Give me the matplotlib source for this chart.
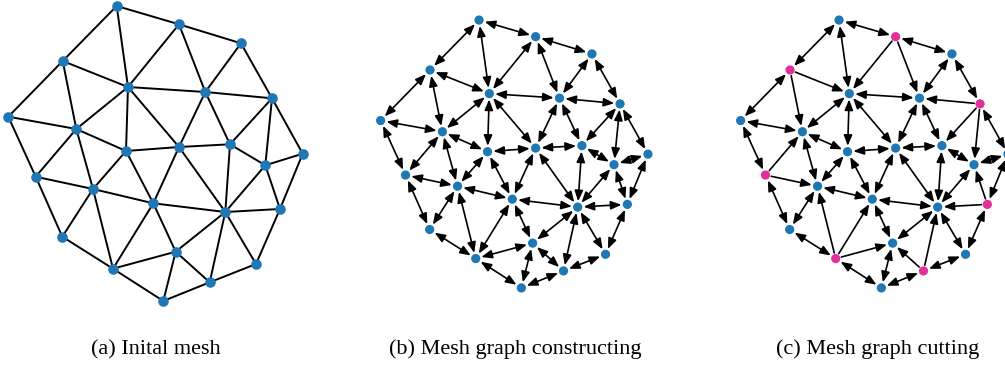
import matplotlib
matplotlib.use("Agg")
import matplotlib.pyplot as plt
from matplotlib.patches import FancyArrowPatch, ArrowStyle

# Mesh vertices (x to the right, y downward)
node_x = [116.7, 179.0, 241.0, 62.7, 128.0, 205.3, 272.0, 8.3, 76.3, 126.0,
          179.0, 230.0, 302.7, 265.3, 35.7, 93.0, 153.3, 225.3, 280.0, 62.3,
          175.7, 256.0, 113.0, 209.7, 163.3]
node_y = [6.0, 24.3, 43.3, 61.0, 87.0, 92.0, 98.3, 116.7, 129.0, 151.0,
          147.0, 144.3, 153.7, 165.3, 176.7, 189.0, 203.3, 212.0, 209.0, 236.7,
          251.7, 264.0, 268.7, 282.3, 301.0]

# Triangle edges of the mesh
edges = [(0, 1), (0, 3), (0, 4), (1, 2), (1, 4), (1, 5), (2, 5), (2, 6),
         (3, 4), (3, 7), (3, 8), (4, 5), (4, 8), (4, 9), (4, 10),
         (5, 6), (5, 10), (5, 11), (6, 11), (6, 12), (6, 13),
         (7, 8), (7, 14), (8, 9), (8, 14), (8, 15), (9, 10), (9, 15), (9, 16),
         (10, 11), (10, 16), (10, 17), (11, 13), (11, 17), (12, 13), (12, 18),
         (13, 17), (13, 18), (14, 15), (14, 19), (15, 16), (15, 19), (15, 22),
         (16, 17), (16, 20), (16, 22), (17, 18), (17, 20), (17, 21), (17, 23),
         (18, 21), (19, 22), (20, 22), (20, 23), (20, 24), (21, 23), (22, 24),
         (23, 24)]

# Boundary loop and the vertices selected for cutting
boundary = [0, 1, 2, 6, 12, 18, 21, 23, 24, 22, 19, 14, 7, 3]
cut_nodes = [1, 6, 18, 23, 22, 14, 3]

captions = ["(a) Inital mesh", "(b) Mesh graph constructing",
            "(c) Mesh graph cutting"]
caption_x = [155.5, 515, 878]

W, H = 1005, 366
BLUE = "#1f77b4"
PINK = "#e0309a"

fig = plt.figure(figsize=(W / 100, H / 100), dpi=100)


def make_axes(left_px, scale, off_x, off_y):
    """Axes spanning a 320x320 px box; data maps to px = off + scale * data."""
    ax = fig.add_axes([left_px / W, (H - 320) / H, 320 / W, 320 / H])
    x0 = (left_px - off_x) / scale
    x1 = (left_px + 320 - off_x) / scale
    y0 = (0 - off_y) / scale
    y1 = (320 - off_y) / scale
    ax.set_xlim(x0, x1)
    ax.set_ylim(y1, y0)
    ax.axis("off")
    return ax


# (a) plain mesh
ax_a = make_axes(0, 1.0, 0.0, 0.0)
for u, v in edges:
    ax_a.plot([node_x[u], node_x[v]], [node_y[u], node_y[v]],
              color="black", lw=1.4, zorder=1, solid_capstyle="round")
ax_a.scatter(node_x, node_y, s=58, color=BLUE, zorder=2, linewidths=0)

head = ArrowStyle("<|-|>", head_length=0.45, head_width=0.18)
head_fwd = ArrowStyle("-|>", head_length=0.45, head_width=0.18)


def draw_graph(ax, cut):
    bset = set(boundary)
    cset = set(cut)
    for u, v in edges:
        style = head
        a, b = u, v
        if u in cset and v not in bset:
            style = head_fwd
        elif v in cset and u not in bset:
            style = head_fwd
            a, b = v, u
        arr = FancyArrowPatch((node_x[a], node_y[a]), (node_x[b], node_y[b]),
                              arrowstyle=style, mutation_scale=14,
                              shrinkA=4.2, shrinkB=4.2, lw=1.2,
                              color="black", zorder=1)
        ax.add_patch(arr)
    colors = [PINK if i in cset else BLUE for i in range(len(node_x))]
    ax.scatter(node_x, node_y, s=44, c=colors, zorder=2, linewidths=0)


# (b) bidirectional mesh graph
ax_b = make_axes(360, 0.908, 373.1, 14.6)
draw_graph(ax_b, [])

# (c) graph after cutting at selected boundary vertices
ax_c = make_axes(720, 0.908, 733.1, 14.6)
draw_graph(ax_c, cut_nodes)

for text, cx in zip(captions, caption_x):
    fig.text(cx / W, (H - 354) / H, text, ha="center", va="baseline",
             fontsize=16, family="Liberation Serif")

fig.savefig("out.png", dpi=100)
